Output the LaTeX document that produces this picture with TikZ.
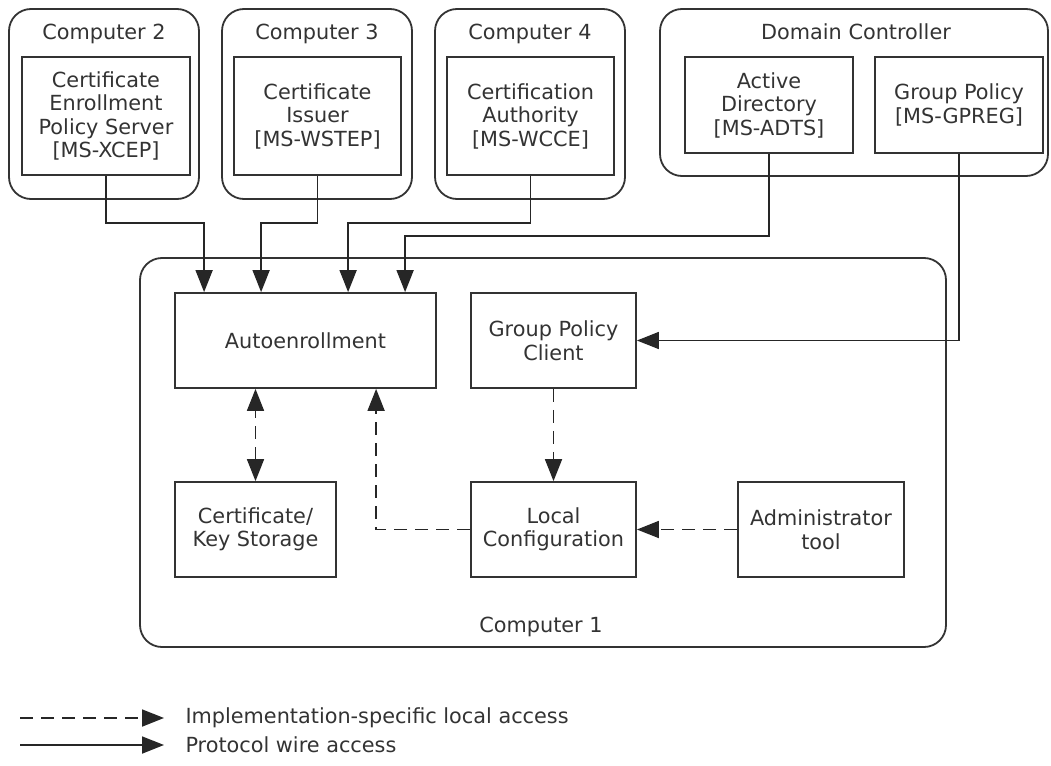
\documentclass[tikz,border=0pt]{standalone}
\usepackage{fontspec}
\setmainfont{DejaVu Sans}
\usetikzlibrary{arrows.meta}
\tikzset{
  host/.style={draw=black!80, line width=1.8pt, rounded corners=22pt},
  unit/.style={draw=black!80, line width=1.8pt, align=center, text=black!80, inner sep=2pt},
  hostname/.style={anchor=base, text=black!80},
  wire/.style={draw=black!85, line width=1.8pt, -{Triangle[length=22pt,width=17pt]}},
  localacc/.style={wire, dash pattern=on 13pt off 8pt},
}
\begin{document}
\begin{tikzpicture}[x=1pt, y=-1pt, font=\fontsize{20.8}{23.5}\selectfont]
    \useasboundingbox (0,0) rectangle (1051,765);
    % hosts
    \node[host, minimum width=190pt, minimum height=190pt] (comp2) at (104,104) {};
    \node[host, minimum width=190pt, minimum height=190pt] (comp3) at (317,104) {};
    \node[host, minimum width=190pt, minimum height=190pt] (comp4) at (530,104) {};
    \node[host, minimum width=388pt, minimum height=167pt] (dc) at (854,92.5) {};
    \node[host, minimum width=806pt, minimum height=389pt] (comp1) at (543,452.5) {};
    \node[hostname] (comp2name) at (104,40) {Computer 2};
    \node[hostname] (comp3name) at (317,40) {Computer 3};
    \node[hostname] (comp4name) at (530,40) {Computer 4};
    \node[hostname] (dcname) at (856,40) {Domain Controller};
    \node[hostname] (comp1name) at (541,632) {Computer 1};
    % remote services
    \node[unit, minimum width=168pt, minimum height=118pt] (xcep) at (106,116)
        {Certificate\\Enrollment\\Policy Server\\{[MS-XCEP]}};
    \node[unit, minimum width=167pt, minimum height=118pt] (wstep) at (317.5,116)
        {Certificate\\Issuer\\{[MS-WSTEP]}};
    \node[unit, minimum width=167pt, minimum height=118pt] (wcce) at (530.5,116)
        {Certification\\Authority\\{[MS-WCCE]}};
    \node[unit, minimum width=168pt, minimum height=96pt] (adts) at (769,105)
        {Active\\Directory\\{[MS-ADTS]}};
    \node[unit, minimum width=168pt, minimum height=96pt] (gpreg) at (959,105)
        {Group Policy\\{[MS-GPREG]}};
    % local parts
    \node[unit, minimum width=261pt, minimum height=95pt] (auto) at (305.5,340.5) {Autoenrollment};
    \node[unit, minimum width=165pt, minimum height=95pt] (gpc) at (553.5,340.5) {Group Policy\\Client};
    \node[unit, minimum width=161pt, minimum height=95pt] (store) at (255.5,529.5) {Certificate/\\Key Storage};
    \node[unit, minimum width=165pt, minimum height=95pt] (lconf) at (553.5,529.5) {Local\\Configuration};
    \node[unit, minimum width=166pt, minimum height=95pt] (admin) at (821,529.5) {Administrator\\tool};
    % wire access
    \draw[wire] (xcep.south) -- ++(0,47) -| ([xshift=30pt]auto.north west);
    \draw[wire] (wstep.south) -- ++(0,47) -| ([xshift=87pt]auto.north west);
    \draw[wire] (wcce.south) -- ++(0,47) -| ([xshift=174pt]auto.north west);
    \draw[wire] (adts.south) -- ++(0,82) -| ([xshift=231pt]auto.north west);
    \draw[wire] (gpreg.south) |- (gpc.east);
    % local access
    \draw[localacc, {Triangle[length=22pt,width=17pt]}-{Triangle[length=22pt,width=17pt]}] (store.north) -- (store.north |- auto.south);
    \draw[localacc] (lconf.west) -| ([xshift=202pt]auto.south west);
    \draw[localacc] (gpc.south) -- (lconf.north);
    \draw[localacc] (admin.west) -- (lconf.east);
    % legend
    \coordinate (dashA) at (20,718);
    \coordinate (dashB) at (164,718);
    \coordinate (lineA) at (20,745);
    \coordinate (lineB) at (164,745);
    \draw[localacc] (dashA) -- (dashB);
    \draw[wire] (lineA) -- (lineB);
    \node[anchor=west, text=black!80] (dashtext) at (182,718) {Implementation-specific local access};
    \node[anchor=west, text=black!80] (linetext) at (182,745) {Protocol wire access};
\end{tikzpicture}
\end{document}
